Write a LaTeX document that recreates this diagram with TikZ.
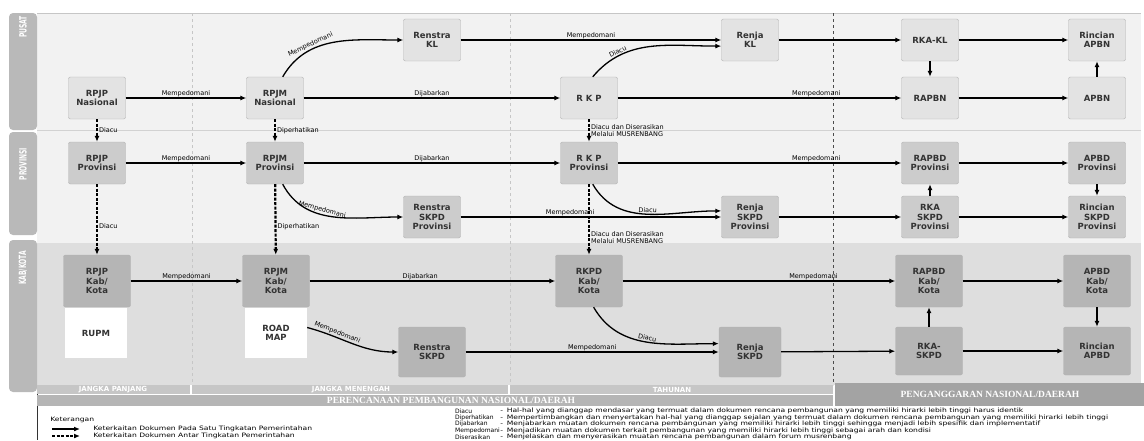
\documentclass[tikz,border=0pt]{standalone}
\usepackage{fontspec}
\setmainfont{DejaVu Sans}
\newfontfamily\barfont{Liberation Serif}
\usetikzlibrary{arrows.meta}
\newcommand{\kk}{Kab/\\Kota}
\tikzset{
  doc/.style={rounded corners=2pt, draw=gray!60, align=center, inner sep=1pt,
    font=\fontsize{8.5}{9.5}\selectfont\bfseries, text=black!80},
  pusat/.style={doc, fill=gray!22, minimum width=57pt, minimum height=42pt},
  prov/.style={doc, fill=gray!40, minimum width=57pt, minimum height=42pt},
  kab/.style={doc, fill=gray!58, minimum width=67pt, minimum height=52pt},
  putih/.style={doc, rounded corners=0pt, draw=none, fill=white, minimum width=62pt, minimum height=50pt},
  lbl/.style={font=\fontsize{6.5}{7}\selectfont, inner sep=1pt},
  conn/.style={->, line width=1.3pt},
  link/.style={->, line width=2.2pt, dash pattern=on 3pt off 1.5pt},
  tab/.style={fill=gray!55, rounded corners=4pt},
  tabtxt/.style={rotate=90, xscale=0.6, text=white, font=\fontsize{10}{10}\selectfont\bfseries},
  bartxt/.style={text=white, font=\fontsize{7}{7}\selectfont\bfseries},
  bigbar/.style={text=white, font=\barfont\fontsize{9.5}{10}\selectfont\bfseries},
  ket/.style={anchor=west, inner sep=0pt, font=\fontsize{6}{6.5}\selectfont},
  ketwide/.style={ket, xscale=1.27}
}
\begin{document}
\begin{tikzpicture}[x=1pt,y=-1pt,>={Latex[length=6pt,width=5pt]}]
\useasboundingbox (0,0) rectangle (1144,440);
% bidang
\fill[gray!10] (37,13) rectangle (1141,243);
\fill[gray!26] (37,243) rectangle (1141,385);
\draw[gray!35] (37,130) -- (1141,130);
\draw[gray!45] (37,13) -- (1141,13);
\draw[gray!45, dashed] (192,13) -- (192,385);
\draw[gray!45, dashed] (510,13) -- (510,385);
\draw[black!70, dashed, line width=0.8pt] (833,13) -- (833,385);
\draw[black!80] (37,385) -- (37,440);

\fill[tab] (9,13) rectangle (37,130);
\fill[tab] (9,132) rectangle (37,235);
\fill[tab] (9,240) rectangle (37,392);
\draw (23,27) node[tabtxt] (tpusat) {PUSAT};
\draw (23,164) node[tabtxt] (tprov) {PROVINSI};
\draw (23,268) node[tabtxt] (tkab) {KAB/KOTA};

\fill[gray!45] (37,385) rectangle (190,394);
\fill[gray!45] (192,385) rectangle (508,394);
\fill[gray!45] (510,385) rectangle (833,394);
\fill[gray!58] (37,395) rectangle (833,406);
\fill[gray!72] (835,383) rectangle (1144,406);
\draw (113,389.5) node[bartxt] (bpanjang) {JANGKA PANJANG};
\draw (351,389.5) node[bartxt] (bmenengah) {JANGKA MENENGAH};
\draw (672,389.5) node[bartxt] (btahunan) {TAHUNAN};
\draw (451,400.5) node[bigbar] (bplan) {PERENCANAAN PEMBANGUNAN NASIONAL/DAERAH};
\draw (990,394.5) node[bigbar] (bbudget) {PENGANGGARAN NASIONAL/DAERAH};

% pusat
\draw (97,98) node[pusat] (rpjpnas) {RPJP\\Nasional};
\draw (275,98) node[pusat] (rpjmnas) {RPJM\\Nasional};
\draw (432,40) node[pusat] (renstrakl) {Renstra\\KL};
\draw (589,98) node[pusat] (rkp) {R K P};
\draw (750,40) node[pusat] (renjakl) {Renja\\KL};
\draw (930,40) node[pusat] (rkakl) {RKA-KL};
\draw (930,98) node[pusat] (rapbn) {RAPBN};
\draw (1097,40) node[pusat] (rincianapbn) {Rincian\\APBN};
\draw (1097,98) node[pusat] (apbn) {APBN};

% provinsi
\draw (97,163) node[prov] (rpjpprov) {RPJP\\Provinsi};
\draw (275,163) node[prov] (rpjmprov) {RPJM\\Provinsi};
\draw (432,217) node[prov] (renstraprov) {Renstra\\SKPD\\Provinsi};
\draw (589,163) node[prov] (rkpprov) {R K P\\Provinsi};
\draw (750,217) node[prov] (renjaprov) {Renja\\SKPD\\Provinsi};
\draw (930,163) node[prov] (rapbdprov) {RAPBD\\Provinsi};
\draw (930,217) node[prov] (rkaprov) {RKA\\SKPD\\Provinsi};
\draw (1097,163) node[prov] (apbdprov) {APBD\\Provinsi};
\draw (1097,217) node[prov] (rincianprov) {Rincian\\SKPD\\Provinsi};

% kab/kota
\draw (97,281) node[kab] (rpjpkab) {RPJP\\\kk};
\draw (276,281) node[kab] (rpjmkab) {RPJM\\\kk};
\draw (589,281) node[kab] (rkpdkab) {RKPD\\\kk};
\draw (432,352) node[kab, minimum height=50pt] (renstrakab) {Renstra\\SKPD};
\draw (750,352) node[kab, minimum width=62pt, minimum height=50pt] (renjakab) {Renja\\SKPD};
\draw (929,281) node[kab] (rapbdkab) {RAPBD\\\kk};
\draw (929,351) node[kab, minimum height=48pt] (rkakab) {RKA-\\SKPD};
\draw (1097,281) node[kab] (apbdkab) {APBD\\\kk};
\draw (1097,351) node[kab, minimum height=48pt] (rincianapbd) {Rincian\\APBD};
\draw (96,333) node[putih] (rupm) {RUPM};
\draw (276,333) node[putih] (roadmap) {ROAD\\MAP};

% satu tingkatan
\draw[conn] (rpjpnas) -- node[midway,above,lbl] {Mempedomani} (rpjmnas);
\draw[conn] (rpjmnas) -- node[midway,above,lbl] {Dijabarkan} (rkp);
\draw[conn] (rkp) -- node[pos=0.7,above,lbl] {Mempedomani} (rapbn);
\draw[conn] (rpjmnas.70) to[out=60,in=180] node[pos=0.32,sloped,above,lbl] {Mempedomani} (renstrakl.west);
\draw[conn] (renstrakl) -- node[midway,above,lbl] {Mempedomani} (renjakl);
\draw[conn] (rkp.80) to[out=50,in=180] node[pos=0.25,sloped,above,lbl] {Diacu} (renjakl.192);
\draw[conn] (renjakl) -- (rkakl);
\draw[conn] (rkakl) -- (rincianapbn);
\draw[conn] (rkakl) -- (rapbn);
\draw[conn] (rapbn) -- (apbn);
\draw[conn] (apbn) -- (rincianapbn);

\draw[conn] (rpjpprov) -- node[midway,above,lbl] {Mempedomani} (rpjmprov);
\draw[conn] (rpjmprov) -- node[midway,above,lbl] {Dijabarkan} (rkpprov);
\draw[conn] (rkpprov) -- node[pos=0.7,above,lbl] {Mempedomani} (rapbdprov);
\draw[conn] (rpjmprov.-70) to[out=-62,in=180] node[pos=0.4,sloped,above,lbl] {Mempedomani} (renstraprov.west);
\draw[conn] (renstraprov) -- node[pos=0.42,above,lbl] {Mempedomani} (renjaprov);
\draw[conn] (rkpprov.-80) to[out=-60,in=180] node[pos=0.5,sloped,above,lbl] {Diacu} (renjaprov.168);
\draw[conn] (renjaprov) -- (rkaprov);
\draw[conn] (rapbdprov) -- (apbdprov);
\draw[conn] (rkaprov) -- (rapbdprov);
\draw[conn] (rkaprov) -- (rincianprov);
\draw[conn] (apbdprov) -- (rincianprov);

\draw[conn] (rpjpkab) -- node[midway,above,lbl] {Mempedomani} (rpjmkab);
\draw[conn] (rpjmkab) -- node[pos=0.45,above,lbl] {Dijabarkan} (rkpdkab);
\draw[conn] (rkpdkab) -- node[pos=0.7,above,lbl] {Mempedomani} (rapbdkab);
\draw[conn] (roadmap.10) to[out=-15,in=180] node[pos=0.3,sloped,above,lbl] {Mempedomani} (renstrakab.west);
\draw[conn] (renstrakab) -- node[midway,above,lbl] {Mempedomani} (renjakab);
\draw[conn] (rkpdkab.-80) to[out=-60,in=180] node[pos=0.5,sloped,above,lbl] {Diacu} (renjakab.165);
\draw[conn] (renjakab) -- (rkakab);
\draw[conn] (rapbdkab) -- (apbdkab);
\draw[conn] (rkakab) -- (rapbdkab);
\draw[conn] (rkakab) -- (rincianapbd);
\draw[conn] (apbdkab) -- (rincianapbd);

% antar tingkatan
\draw[link] (rpjpnas) -- node[midway,right,lbl] {Diacu} (rpjpprov);
\draw[link] (rpjmnas) -- node[midway,right,lbl] {Diperhatikan} (rpjmprov);
\draw[link] (rkp) -- node[midway,right,lbl,align=left] {Diacu dan Diserasikan\\Melalui MUSRENBANG} (rkpprov);
\draw[link] (rpjpprov) -- node[pos=0.6,right,lbl] {Diacu} (rpjpkab);
\draw[link] (rpjmprov) -- node[pos=0.6,right,lbl] {Diperhatikan} (rpjmkab);
\draw[link] (rkpprov) -- node[pos=0.75,right,lbl,align=left] {Diacu dan Diserasikan\\Melalui MUSRENBANG} (rkpdkab);

% keterangan
\draw (50,420) node[ketwide] (ket) {Keterangan};
\coordinate (sa) at (52,429);
\coordinate (sb) at (80,429);
\coordinate (da) at (52,436);
\coordinate (db) at (80,436);
\draw[->, line width=1.2pt] (sa) -- (sb);
\draw[->, line width=2pt, dash pattern=on 3pt off 1.5pt] (da) -- (db);
\draw (93,429) node[ketwide] (k1) {Keterkaitan Dokumen Pada Satu Tingkatan Pemerintahan};
\draw (93,436) node[ketwide] (k2) {Keterkaitan Dokumen Antar Tingkatan Pemerintahan};

\draw (455,411) node[ket] (t1) {Diacu};
\draw (455,417.5) node[ket] (t2) {Diperhatikan};
\draw (455,424) node[ket] (t3) {Dijabarkan};
\draw (455,430.5) node[ket] (t4) {Mempedomani};
\draw (455,437) node[ket] (t5) {Diserasikan};
\draw (500,411) node[ketwide] (d1) {-\enspace Hal-hal yang dianggap mendasar yang termuat dalam dokumen rencana pembangunan yang memiliki hirarki lebih tinggi harus identik};
\draw (500,417.5) node[ketwide] (d2) {-\enspace Mempertimbangkan dan menyertakan hal-hal yang dianggap sejalan yang termuat dalam dokumen rencana pembangunan yang memiliki hirarki lebih tinggi};
\draw (500,424) node[ketwide] (d3) {-\enspace Menjabarkan muatan dokumen rencana pembangunan yang memiliki hirarki lebih tinggi sehingga menjadi lebih spesifik dan implementatif};
\draw (500,430.5) node[ketwide] (d4) {-\enspace Menjadikan muatan dokumen terkait pembangunan yang memiliki hirarki lebih tinggi sebagai arah dan kondisi};
\draw (500,437) node[ketwide] (d5) {-\enspace Menjelaskan dan menyerasikan muatan rencana pembangunan dalam forum musrenbang};
\end{tikzpicture}
\end{document}
